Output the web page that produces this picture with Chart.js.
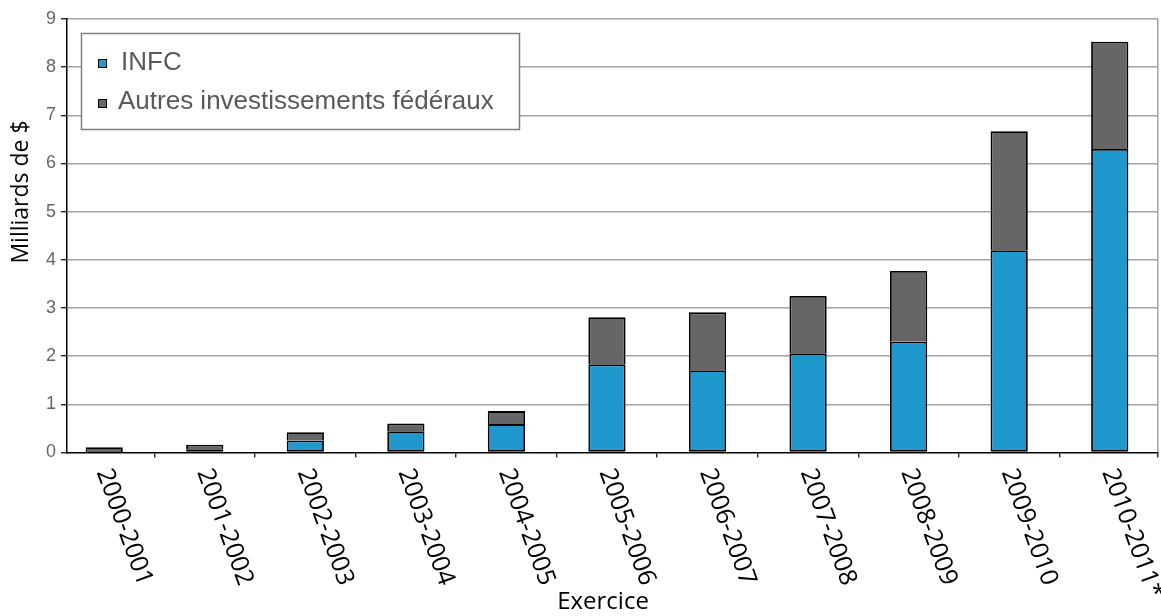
<!DOCTYPE html>
<html>
<head>
<meta charset="utf-8">
<script src="https://cdn.jsdelivr.net/npm/chart.js@4.4.1/dist/chart.umd.min.js"></script>
<style>
  html, body { margin: 0; padding: 0; background: #ffffff; }
  #wrap { width: 1161px; height: 616px; }
</style>
</head>
<body>
<div id="wrap"><canvas id="chart" width="1161" height="616"></canvas></div>
<script>
// Fiscal years (Exercice)
const categories = ['2000-2001', '2001-2002', '2002-2003', '2003-2004', '2004-2005',
  '2005-2006', '2006-2007', '2007-2008', '2008-2009', '2009-2010', '2010-2011*'];

// Billions of dollars per fiscal year
const infcValues   = [0.01, 0.07, 0.25, 0.44, 0.59, 1.83, 1.71, 2.06, 2.30, 4.20, 6.30];
const autresValues = [0.10, 0.09, 0.17, 0.16, 0.27, 0.98, 1.20, 1.19, 1.47, 2.47, 2.23];

const seriesNames = ['INFC', 'Autres investissements fédéraux'];
const seriesColors = ['#1f98cd', '#666666'];

const yTickValues = [0, 1, 2, 3, 4, 5, 6, 7, 8, 9];
const xTitle = 'Exercice';
const yTitle = 'Milliards de $';

// Horizontal extent of the category axis (bar i sits at x = i)
const X_MIN = -0.37;
const X_MAX = 10.48;
const boundaries = categories.slice(1).map((_, i) => i + 0.5).concat([X_MAX]);

const toPoints = arr => arr.map((v, i) => ({ x: i, y: v }));

const GRID = '#a3a3a3';

// Rotated fiscal-year labels, axis titles and the boxed legend
const decorations = {
  id: 'decorations',
  afterDraw(chart) {
    const ctx = chart.ctx;
    const xs = chart.scales.x;
    const area = chart.chartArea;

    // category labels, turned 70° clockwise
    ctx.save();
    ctx.fillStyle = '#000';
    ctx.font = '25px "Open Sans"';
    ctx.textAlign = 'left';
    ctx.textBaseline = 'middle';
    categories.forEach((lab, i) => {
      const px = xs.getPixelForValue(i);
      ctx.save();
      ctx.translate(px - 1, area.bottom + 17);
      ctx.rotate(70 * Math.PI / 180);
      ctx.fillText(lab, 0, 0);
      ctx.restore();
    });
    ctx.restore();

    // axis titles
    ctx.save();
    ctx.fillStyle = '#000';
    ctx.textAlign = 'center';
    ctx.textBaseline = 'middle';
    ctx.font = '24px "Open Sans"';
    ctx.fillText(xTitle, 603, 602);
    ctx.translate(21, 192);
    ctx.rotate(-Math.PI / 2);
    ctx.font = '23px "Open Sans"';
    ctx.fillText(yTitle, 0, 0);
    ctx.restore();

    // legend box
    ctx.save();
    ctx.fillStyle = '#ffffff';
    ctx.fillRect(81, 33, 438, 96);
    ctx.strokeStyle = '#7f7f7f';
    ctx.lineWidth = 1.5;
    ctx.strokeRect(81.5, 33.5, 438, 96);
    ctx.font = '26px "Liberation Sans"';
    ctx.textAlign = 'left';
    ctx.textBaseline = 'alphabetic';
    const rows = [{ sq: 59, base: 70 }, { sq: 99, base: 109 }];
    chart.data.datasets.forEach((ds, i) => {
      const r = rows[i];
      ctx.fillStyle = ds.backgroundColor;
      ctx.fillRect(98, r.sq, 9, 9);
      ctx.strokeStyle = '#000';
      ctx.lineWidth = 1;
      ctx.strokeRect(98.5, r.sq + 0.5, 8, 8);
      ctx.fillStyle = '#595959';
      ctx.fillText(ds.label, i === 0 ? 121 : 118, r.base);
    });
    ctx.restore();
  }
};

new Chart(document.getElementById('chart'), {
  type: 'bar',
  data: {
    datasets: [
      {
        label: seriesNames[0],
        data: toPoints(infcValues),
        backgroundColor: seriesColors[0],
        borderColor: '#000',
        borderWidth: 1.8,
        borderSkipped: false,
        categoryPercentage: 1,
        barPercentage: 0.378
      },
      {
        label: seriesNames[1],
        data: toPoints(autresValues),
        backgroundColor: seriesColors[1],
        borderColor: '#000',
        borderWidth: 1.8,
        borderSkipped: 'start',
        categoryPercentage: 1,
        barPercentage: 0.378
      }
    ]
  },
  options: {
    responsive: false,
    animation: false,
    devicePixelRatio: 1,
    layout: { padding: { top: 19, right: 3, left: 0, bottom: 0 } },
    plugins: {
      legend: { display: false },
      tooltip: { enabled: false }
    },
    scales: {
      x: {
        type: 'linear',
        stacked: true,
        offset: false,
        bounds: 'data',
        min: X_MIN,
        max: X_MAX,
        afterBuildTicks: scale => { scale.ticks = boundaries.map(v => ({ value: v })); },
        afterFit: scale => { scale.height = 163.5; },
        ticks: { display: false },
        grid: {
          offset: false,
          drawOnChartArea: true,
          color: c => (c.tick && c.tick.value === X_MAX) ? GRID : 'rgba(0,0,0,0)',
          lineWidth: 1.5,
          tickColor: '#000',
          tickWidth: 1.2,
          tickLength: 5
        },
        border: { color: '#000', width: 1.5 }
      },
      y: {
        stacked: true,
        min: 0,
        max: 9,
        afterBuildTicks: scale => { scale.ticks = yTickValues.map(v => ({ value: v })); },
        afterFit: scale => { scale.width = 67; },
        ticks: {
          padding: 5,
          color: '#666666',
          font: { family: '"Liberation Sans"', size: 18 }
        },
        grid: {
          color: c => (c.tick && c.tick.value === 0) ? 'rgba(0,0,0,0)' : GRID,
          lineWidth: 1.5,
          tickColor: '#000',
          tickWidth: 1.2,
          tickLength: 6
        },
        border: { color: '#000', width: 1.5 }
      }
    }
  },
  plugins: [decorations]
});
</script>
</body>
</html>
